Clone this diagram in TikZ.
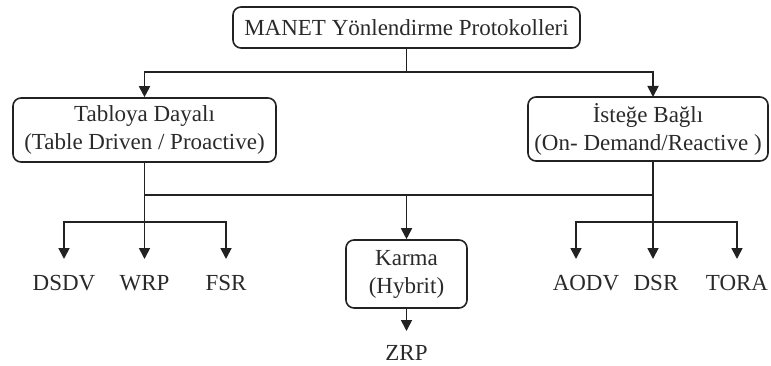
\documentclass[tikz,border=0pt]{standalone}
\usepackage{fontspec}
\setmainfont{Liberation Serif}
\usetikzlibrary{arrows.meta}
\definecolor{inkline}{HTML}{222222}
\definecolor{inktext}{HTML}{2A2A2A}
\begin{document}
\begin{tikzpicture}[x=1pt,y=-1pt,
  box/.style={draw=inkline, line width=1.6pt, rounded corners=8pt, align=center,
    text=inktext, inner sep=0pt},
  leaf/.style={text=inktext, inner sep=0pt, anchor=center},
  link/.style={draw=inkline, line width=1.8pt},
  arr/.style={link, -{Triangle[width=11pt,length=11pt]}},
  every node/.append style={font=\fontsize{23}{28}\selectfont}]
\useasboundingbox (0,0) rectangle (771,366);

% root and the two main families
\node[box, minimum width=347pt, minimum height=41pt] (root) at (406.5,27.5) {MANET Yönlendirme Protokolleri};
\node[box, minimum width=263pt, minimum height=64pt] (table) at (144.5,130) {Tabloya Dayalı\\(Table Driven / Proactive)};
\node[box, minimum width=240pt, minimum height=64pt] (demand) at (648,129) {İsteğe Bağlı\\(On- Demand/Reactive )};
\node[box, minimum width=121pt, minimum height=68pt] (hybrid) at (406.5,274) {Karma\\(Hybrit)};

% protocol names
\node[leaf] (dsdv) at (64,283) {DSDV};
\node[leaf] (wrp) at (144.5,283) {WRP};
\node[leaf] (fsr) at (226,283) {FSR};
\node[leaf] (aodv) at (586,283) {AODV};
\node[leaf] (dsr) at (656,283) {DSR};
\node[leaf] (tora) at (737,283) {TORA};
\node[leaf] (zrp) at (406.5,353) {ZRP};

% junction points of the buses
\coordinate (jroot) at (406.5,72);
\coordinate (jmid) at (144.5,195);
\coordinate (jmidR) at (653,195);
\coordinate (jmidC) at (406.5,195);
\coordinate (jleft) at (144.5,222);
\coordinate (jright) at (653,222);
\coordinate (demandIn) at (653,97);
\coordinate (demandOut) at (653,161);
\coordinate (zrpIn) at (406.5,331);

% root to families
\draw[link] (root.south) -- (jroot);
\draw[arr] (jroot) -| (table.north);
\draw[arr] (jroot) -| (demandIn);

% middle bus to the hybrid family
\draw[link] (jmid) -- (jmidR);
\draw[arr] (jmidC) -- (hybrid.north);
\draw[arr] (hybrid.south) -- (zrpIn);

% proactive protocols
\draw[link] (64,222) -- (226,222);
\draw[arr] (table.south) -- (144.5,259);
\draw[arr] (jleft) -| (64,259);
\draw[arr] (jleft) -| (226,259);

% reactive protocols
\draw[link] (576,222) -- (737,222);
\draw[arr] (demandOut) -- (653,259);
\draw[arr] (jright) -| (576,259);
\draw[arr] (jright) -| (737,259);
\end{tikzpicture}
\end{document}
